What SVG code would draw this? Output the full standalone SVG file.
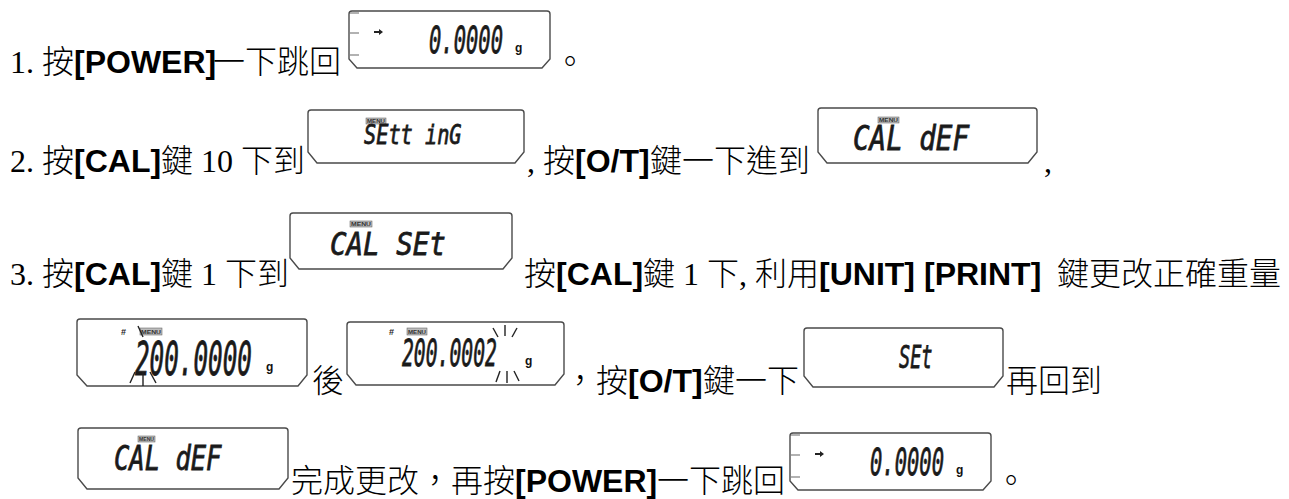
<svg xmlns="http://www.w3.org/2000/svg" width="1289" height="499" viewBox="0 0 1289 499">
<style>
.s{font-family:"Liberation Serif","Noto Sans CJK TC",serif;font-size:32px;fill:#000}
.c{font-family:"Noto Sans CJK TC","Noto Sans CJK SC",sans-serif;font-size:32px;font-weight:300;fill:#000}
.b{font-family:"Liberation Sans",Arial,sans-serif;font-weight:bold;font-size:32px;fill:#000}
.lcd{fill:#fff;stroke:#4a4a4a;stroke-width:1.4}
.seg{font-family:"DejaVu Sans Mono",monospace;font-style:oblique;fill:#1a1a1a;stroke:#1a1a1a;stroke-width:0.8}
.mb{fill:#bdbdbd;stroke:#555;stroke-width:0.5}
.mt{font-family:"Liberation Sans",sans-serif;font-size:5px;font-weight:bold;fill:#333}
.tick{stroke:#999;stroke-width:1.5}
.bl{stroke:#222;stroke-width:1.4;fill:none}
.g{font-family:"Liberation Sans",sans-serif;font-weight:bold;font-size:12px;fill:#111}
.hs{font-family:"Liberation Sans",sans-serif;font-weight:bold;font-size:9px;fill:#222}
</style>
<defs>
<path id="arr" d="M0,0 h5 v-2 l4,3 l-4,3 v-2 h-5 z" fill="#222"/>
</defs>
<rect width="1289" height="499" fill="#fff"/>

<g id="connectors"/>

<!-- Line 1 -->
<g id="line1">
<text y="73"><tspan class="s" x="10">1.</tspan><tspan class="c" x="42">按</tspan><tspan class="b" x="74">[POWER]</tspan><tspan class="c" x="213">一下跳回</tspan><tspan class="c" x="554">。</tspan></text>
</g>
<g id="display1">
<path class="lcd" d="M352,11 H547 Q550,11 550,14 V59 L542,68 H357 L349,59 V14 Q349,11 352,11 Z"/>
<line class="tick" x1="350" y1="13" x2="359" y2="13"/>
<line class="tick" x1="350" y1="33" x2="359" y2="33"/>
<line class="tick" x1="350" y1="55" x2="359" y2="55"/>
<use href="#arr" x="374" y="31"/>
<text class="seg" transform="translate(429,53) scale(0.539,1)" font-size="38">0.0000</text>
<text class="g" x="515" y="52">g</text>
</g>

<!-- Line 2 -->
<g id="line2">
<text y="172"><tspan class="s" x="10">2.</tspan><tspan class="c" x="42">按</tspan><tspan class="b" x="74">[CAL]</tspan><tspan class="c" x="161">鍵</tspan><tspan class="s" x="201">10</tspan><tspan class="c" x="241">下到</tspan><tspan class="s" x="527">,</tspan><tspan class="c" x="543">按</tspan><tspan class="b" x="575">[O/T]</tspan><tspan class="c" x="650">鍵一下進到</tspan><tspan class="s" x="1044">,</tspan></text>
</g>
<g id="display2">
<path class="lcd" d="M311,110 H521 Q524,110 524,113 V152 L515,163 H317 L308,152 V113 Q308,110 311,110 Z"/>
<rect class="mb" x="366" y="118" width="20" height="6"/>
<text class="mt" x="367" y="123" textLength="18" lengthAdjust="spacingAndGlyphs">MENU</text>
<text class="seg" transform="translate(364,144) scale(0.75,1)" font-size="27">SEtt inG</text>
</g>
<g id="display3">
<path class="lcd" d="M821,108 H1034 Q1037,108 1037,111 V152 L1028,163 H827 L818,152 V111 Q818,108 821,108 Z"/>
<rect class="mb" x="878" y="117" width="21" height="6"/>
<text class="mt" x="879" y="122" textLength="19" lengthAdjust="spacingAndGlyphs">MENU</text>
<text class="seg" transform="translate(853,150) scale(0.81,1)" font-size="34">CAL dEF</text>
</g>

<!-- Line 3 -->
<g id="line3">
<text y="285"><tspan class="s" x="10">3.</tspan><tspan class="c" x="42">按</tspan><tspan class="b" x="74">[CAL]</tspan><tspan class="c" x="161">鍵</tspan><tspan class="s" x="201">1</tspan><tspan class="c" x="225">下到</tspan><tspan class="c" x="524">按</tspan><tspan class="b" x="556">[CAL]</tspan><tspan class="c" x="643">鍵</tspan><tspan class="s" x="683">1</tspan><tspan class="c" x="707">下</tspan><tspan class="s" x="739">,</tspan><tspan class="c" x="755">利用</tspan><tspan class="b" x="819">[UNIT]</tspan><tspan class="b" x="924">[PRINT]</tspan><tspan class="c" x="1057">鍵更改正確重量</tspan></text>
</g>
<g id="display4">
<path class="lcd" d="M293,213 H509 Q512,213 512,216 V258 L503,269 H299 L290,258 V216 Q290,213 293,213 Z"/>
<rect class="mb" x="350" y="221" width="22" height="6"/>
<text class="mt" x="351" y="226" textLength="20" lengthAdjust="spacingAndGlyphs">MENU</text>
<text class="seg" transform="translate(330,255) scale(0.86,1)" font-size="32">CAL SEt</text>
</g>

<!-- Line 4 -->
<g id="line4">
<text y="392"><tspan class="c" x="312">後</tspan><tspan class="c" x="564">，</tspan><tspan class="c" x="596">按</tspan><tspan class="b" x="628">[O/T]</tspan><tspan class="c" x="703">鍵一下</tspan><tspan class="c" x="1006">再回到</tspan></text>
</g>
<g id="display5">
<path class="lcd" d="M80,319 H304 Q307,319 307,322 V375 L298,386 H87 L77,375 V322 Q77,319 80,319 Z"/>
<text class="hs" x="121" y="335">#</text>
<rect class="mb" x="140" y="328" width="22" height="7"/>
<text class="mt" x="141" y="334" textLength="20" lengthAdjust="spacingAndGlyphs">MENU</text>
<line class="bl" x1="138" y1="326" x2="143" y2="337"/>
<text class="seg" transform="translate(135,375) scale(0.528,1)" font-size="46">200.0000</text>
<text class="g" x="266" y="371">g</text>
<line class="bl" x1="130" y1="383" x2="135" y2="372"/>
<line class="bl" x1="143" y1="372" x2="143" y2="386"/>
<line class="bl" x1="150" y1="372" x2="156" y2="383"/>
</g>
<g id="display6">
<path class="lcd" d="M350,322 H561 Q564,322 564,325 V374 L555,385 H356 L347,374 V325 Q347,322 350,322 Z"/>
<text class="hs" x="389" y="335">#</text>
<rect class="mb" x="407" y="328" width="20" height="7"/>
<text class="mt" x="408" y="334" textLength="18" lengthAdjust="spacingAndGlyphs">MENU</text>
<text class="seg" transform="translate(402,366) scale(0.533,1)" font-size="37">200.0002</text>
<text class="g" x="525" y="365">g</text>
<line class="bl" x1="493" y1="328" x2="498" y2="337"/>
<line class="bl" x1="505" y1="325" x2="505" y2="336"/>
<line class="bl" x1="517" y1="328" x2="512" y2="337"/>
<line class="bl" x1="496" y1="382" x2="500" y2="371"/>
<line class="bl" x1="507" y1="371" x2="507" y2="383"/>
<line class="bl" x1="514" y1="371" x2="519" y2="381"/>
</g>
<g id="display7">
<path class="lcd" d="M807,328 H1000 Q1003,328 1003,331 V376 L994,387 H813 L804,376 V331 Q804,328 807,328 Z"/>
<text class="seg" transform="translate(899,368) scale(0.58,1)" font-size="32">SEt</text>
</g>

<!-- Line 5 -->
<g id="line5">
<text y="492"><tspan class="c" x="291">完成更改，再按</tspan><tspan class="b" x="515">[POWER]</tspan><tspan class="c" x="657">一下跳回</tspan><tspan class="c" x="995">。</tspan></text>
</g>
<g id="display8">
<path class="lcd" d="M81,428 H285 Q288,428 288,431 V478 L279,489 H87 L78,478 V431 Q78,428 81,428 Z"/>
<rect class="mb" x="138" y="436" width="17" height="6"/>
<text class="mt" x="139" y="441" textLength="15" lengthAdjust="spacingAndGlyphs">MENU</text>
<text class="seg" transform="translate(114,470) scale(0.75,1)" font-size="34">CAL dEF</text>
</g>
<g id="display9">
<path class="lcd" d="M793,433 H988 Q991,433 991,436 V481 L983,490 H798 L790,481 V436 Q790,433 793,433 Z"/>
<line class="tick" x1="791" y1="435" x2="800" y2="435"/>
<line class="tick" x1="791" y1="455" x2="800" y2="455"/>
<line class="tick" x1="791" y1="477" x2="800" y2="477"/>
<use href="#arr" x="815" y="453"/>
<text class="seg" transform="translate(870,475) scale(0.539,1)" font-size="38">0.0000</text>
<text class="g" x="956" y="474">g</text>
</g>
</svg>
